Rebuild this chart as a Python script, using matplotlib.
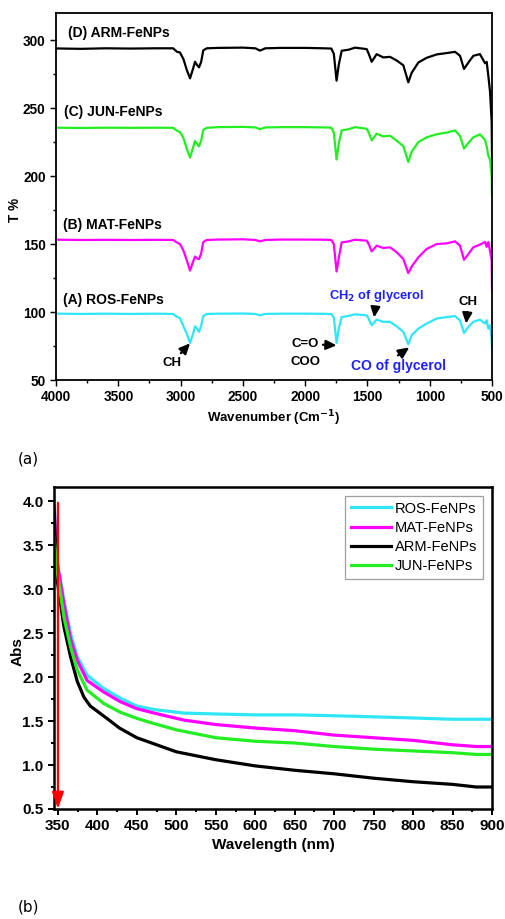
"""FTIR (a) and UV-vis (b) spectra of the four FeNPs samples, stacked figure."""

import matplotlib

matplotlib.use("Agg")
import matplotlib.pyplot as plt
from matplotlib.ticker import MultipleLocator

plt.rcParams["font.family"] = ["Liberation Sans", "DejaVu Sans"]

# ---- (a) FTIR, transmittance (offset traces) ----
WN = [4000, 3800, 3600, 3400, 3200, 3060, 3030, 3005, 2977, 2950, 2924, 2900,
      2884, 2870, 2852, 2835, 2818, 2790, 2700, 2500, 2400, 2362, 2320, 2200,
      2000, 1850, 1790, 1770, 1748, 1730, 1707, 1650, 1600, 1506, 1490, 1466,
      1426, 1373, 1319, 1265, 1212, 1172, 1145, 1091, 1025, 944, 864, 797,
      757, 725, 690, 650, 597, 556, 543, 530, 516, 503, 500]
T_ROS = [98.8, 98.6, 98.8, 98.6, 98.8, 98.6, 96.5, 95.5, 89.5, 84.0, 77.3, 84.0,
         89.5, 88.0, 85.4, 90.0, 97.0, 98.6, 98.8, 98.9, 98.6, 97.6, 98.6, 98.8,
         98.8, 98.7, 98.5, 96.0, 77.3, 88.0, 96.3, 97.2, 98.3, 97.6, 95.0, 90.3,
         94.4, 92.8, 92.8, 89.5, 85.4, 76.3, 83.0, 87.8, 91.5, 95.2, 96.3, 97.0,
         93.9, 84.6, 89.0, 92.8, 94.4, 91.5, 94.0, 87.8, 90.3, 80.0, 72.0]
T_MAT = [153.2, 153.0, 153.1, 153.0, 153.1, 153.0, 151.2, 150.0, 145.2, 138.0, 130.5, 137.0,
         140.8, 139.5, 139.0, 143.0, 151.5, 153.0, 153.3, 153.5, 153.0, 152.0, 153.0, 153.3,
         153.3, 153.2, 153.0, 150.0, 129.8, 140.0, 151.2, 152.0, 153.2, 152.5, 150.0, 144.6,
         148.8, 147.1, 147.6, 144.0, 139.0, 128.6, 133.5, 140.3, 146.4, 150.0, 150.5, 152.0,
         148.8, 138.4, 142.7, 147.6, 149.6, 151.5, 148.0, 151.5, 145.0, 138.0, 116.0]
T_JUN = [235.6, 235.4, 235.6, 235.5, 235.6, 235.5, 233.5, 232.4, 228.0, 220.0, 213.6, 221.0,
         225.8, 224.0, 221.9, 226.0, 234.0, 235.5, 236.0, 236.2, 235.8, 234.5, 235.8, 236.0,
         236.0, 235.8, 235.6, 232.0, 212.2, 224.0, 233.6, 234.5, 236.0, 234.8, 232.0, 226.3,
         231.2, 229.2, 229.7, 226.0, 222.0, 210.4, 218.0, 225.0, 228.5, 230.8, 232.0, 233.6,
         229.5, 220.2, 224.5, 228.5, 230.7, 226.5, 222.0, 215.0, 212.0, 200.0, 185.0]
T_ARM = [293.9, 293.6, 294.0, 293.8, 294.0, 294.0, 291.5, 290.9, 286.0, 278.0, 271.9, 279.0,
         284.1, 282.0, 280.0, 284.0, 292.5, 294.0, 294.3, 294.5, 294.0, 292.3, 294.0, 294.3,
         294.3, 294.0, 293.8, 290.0, 270.2, 282.0, 292.2, 293.0, 294.5, 293.4, 290.0, 284.1,
         289.7, 287.3, 287.7, 285.0, 281.5, 269.0, 276.0, 283.6, 287.0, 289.5, 290.5, 291.4,
         288.5, 278.8, 283.5, 288.5, 289.7, 283.0, 284.0, 274.0, 262.0, 240.0, 212.0]

# ---- (b) UV-vis absorbance ----
WL_ROS = [345, 349, 357.6, 366, 374.5, 387, 408, 429, 450, 472, 510, 550, 600, 650, 700, 780, 850, 900]
A_ROS = [4.02, 3.32, 2.87, 2.49, 2.23, 2.02, 1.87, 1.76, 1.67, 1.63, 1.59, 1.58, 1.57, 1.57, 1.56, 1.54, 1.52, 1.52]
WL_MAT = [345, 349, 357.6, 366, 374.5, 387, 408, 429, 450, 472, 510, 550, 600, 650, 700, 750, 800, 850, 880, 900]
A_MAT = [3.95, 3.30, 2.83, 2.43, 2.19, 1.96, 1.83, 1.72, 1.64, 1.59, 1.51, 1.46, 1.42, 1.39, 1.34, 1.31, 1.28, 1.23, 1.21, 1.21]
WL_ARM = [345, 349, 357.6, 366, 374.5, 383, 391, 400, 412, 428, 450, 500, 550, 600, 650, 700, 750, 800, 850, 880, 900]
A_ARM = [3.89, 3.10, 2.57, 2.23, 1.95, 1.77, 1.67, 1.61, 1.53, 1.42, 1.31, 1.15, 1.06, 0.99, 0.94, 0.90, 0.85, 0.81, 0.78, 0.75, 0.75]
WL_JUN = [345, 349, 357.6, 366, 374.5, 387, 408, 429, 450, 472, 500, 550, 600, 650, 700, 750, 800, 850, 880, 900]
A_JUN = [3.60, 3.20, 2.68, 2.34, 2.08, 1.85, 1.70, 1.60, 1.53, 1.47, 1.40, 1.31, 1.27, 1.25, 1.21, 1.18, 1.16, 1.14, 1.12, 1.12]

CYAN, MAGENTA, GREEN = "#2fe6f5", "#ff00ff", "#22ee22"


def style_axes(ax, lw, size):
    for s in ax.spines.values():
        s.set_linewidth(lw)
    ax.tick_params(which="both", direction="out", width=lw * 0.8)
    ax.tick_params(which="major", length=4, labelsize=size)
    ax.tick_params(which="minor", length=2.5)
    for lab in ax.get_xticklabels() + ax.get_yticklabels():
        lab.set_fontweight("bold")


fig = plt.figure(figsize=(5.06, 9.19), dpi=100)

# (a)
ax1 = fig.add_axes([0.1107, 0.5865, 0.8617, 0.3994])
ax1.plot(WN, T_ARM, color="black", lw=1.6)
ax1.plot(WN, T_JUN, color=GREEN, lw=1.6)
ax1.plot(WN, T_MAT, color=MAGENTA, lw=1.6)
ax1.plot(WN, T_ROS, color=CYAN, lw=1.6)
ax1.set_xlim(4000, 500)
ax1.set_ylim(50, 320)
ax1.xaxis.set_major_locator(MultipleLocator(500))
ax1.xaxis.set_minor_locator(MultipleLocator(250))
ax1.yaxis.set_major_locator(MultipleLocator(50))
ax1.yaxis.set_minor_locator(MultipleLocator(25))
style_axes(ax1, 1.3, 9.8)
ax1.set_xlabel("Wavenumber (Cm$^{\\mathbf{-1}}$)", fontsize=9.5, fontweight="bold", labelpad=3)
ax1.set_ylabel("T %", fontsize=9.8, fontweight="bold")
ax1.yaxis.set_label_coords(-0.078, 0.463)

lbl = dict(fontsize=10, fontweight="bold", ha="left", va="center")
ax1.text(3905, 305, "(D) ARM-FeNPs", **lbl)
ax1.text(3935, 247.5, "(C) JUN-FeNPs", **lbl)
ax1.text(3940, 164, "(B) MAT-FeNPs", **lbl)
ax1.text(3940, 108.5, "(A) ROS-FeNPs", **lbl)

arr = dict(arrowstyle="-|>,head_length=0.65,head_width=0.3", color="black", lw=1.6,
           shrinkA=1, shrinkB=0)
ann = dict(fontsize=9.5, fontweight="bold", ha="center", va="center")
ax1.annotate("CH", xy=(2924, 77), xytext=(3071, 62.5), arrowprops=arr, **ann)
ax1.annotate("C=O", xy=(1748, 75.5), xytext=(2001, 76.5), arrowprops=arr, **ann)
ax1.text(2001, 63.5, "COO", **ann)
ax1.annotate("CH$_\\mathbf{2}$ of glycerol", xy=(1446, 96), xytext=(1426, 112),
             arrowprops=arr, color="#2020ff", fontsize=9.3, fontweight="bold",
             ha="center", va="center")
ax1.annotate("", xy=(1164, 74), xytext=(1265, 67.5), arrowprops=arr)
ax1.text(1252, 60.5, "CO of glycerol", color="#2020ff", fontsize=10, fontweight="bold",
         ha="center", va="center")
ax1.annotate("CH", xy=(708, 91.5), xytext=(690, 107.5), arrowprops=arr, **ann)

fig.text(0.036, 0.5005, "(a)", fontsize=11, family="DejaVu Sans", va="center")

# (b)
ax2 = fig.add_axes([0.1067, 0.1197, 0.8656, 0.3504])
ax2.plot(WL_ROS, A_ROS, color=CYAN, lw=2.3, label="ROS-FeNPs")
ax2.plot(WL_MAT, A_MAT, color=MAGENTA, lw=2.3, label="MAT-FeNPs")
ax2.plot(WL_ARM, A_ARM, color="black", lw=2.3, label="ARM-FeNPs")
ax2.plot(WL_JUN, A_JUN, color=GREEN, lw=2.3, label="JUN-FeNPs")
ax2.annotate("", xy=(350, 0.5), xytext=(350, 3.98),
             arrowprops=dict(arrowstyle="-|>,head_length=1.0,head_width=0.35",
                             color="red", lw=1.6, shrinkA=0, shrinkB=0))
ax2.set_xlim(345, 900)
ax2.set_ylim(0.5, 4.16)
ax2.xaxis.set_major_locator(MultipleLocator(50))
ax2.xaxis.set_minor_locator(MultipleLocator(25))
ax2.yaxis.set_major_locator(MultipleLocator(0.5))
ax2.yaxis.set_minor_locator(MultipleLocator(0.25))
style_axes(ax2, 1.8, 11)
ax2.set_xlabel("Wavelength (nm)", fontsize=11, fontweight="bold", labelpad=3)
ax2.set_ylabel("Abs", fontsize=11, fontweight="bold")
ax2.yaxis.set_label_coords(-0.066, 0.49)
leg = ax2.legend(loc="upper right", fontsize=10.5, frameon=True, fancybox=False,
                 edgecolor="#888888", handlelength=2.7, handletextpad=0.3,
                 labelspacing=0.35, borderaxespad=0.6)
leg.get_frame().set_linewidth(0.9)

fig.text(0.036, 0.013, "(b)", fontsize=11, family="DejaVu Sans", va="center")

fig.savefig("out.png", dpi=100)
